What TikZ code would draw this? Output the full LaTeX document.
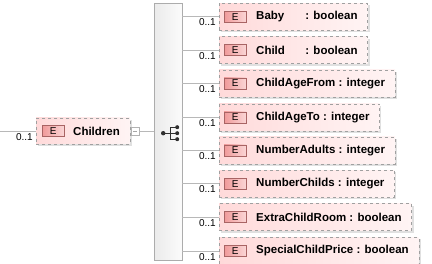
\documentclass[tikz,border=0pt]{standalone}
\usepackage{fontspec}
\setmainfont{Liberation Sans}
\usetikzlibrary{positioning,shadows}

\definecolor{elemfill}{HTML}{FFDADA}
\definecolor{elemfade}{HTML}{FFF4F4}
\definecolor{badgefill}{HTML}{F09A9A}
\definecolor{badgefade}{HTML}{FBD6D6}
\definecolor{badgeline}{HTML}{A86464}
\definecolor{boxline}{HTML}{A0A0A0}
\definecolor{wire}{HTML}{B8B8B8}
\definecolor{icon}{HTML}{303030}

\begin{document}
\begin{tikzpicture}[
  x=1pt, y=-1pt,
  font=\fontsize{11.5}{13}\selectfont,
  element/.style={draw=boxline, dashed, left color=elemfill, right color=elemfade, minimum height=27pt, inner xsep=10pt, inner ysep=0pt, font=\fontsize{11.5}{13}\selectfont\bfseries, execute at begin node={\hspace*{27pt}}, drop shadow={shadow xshift=2pt, shadow yshift=-2pt, fill=black, opacity=0.12}},
  ebadge/.style={draw=badgeline, left color=badgefill, right color=badgefade, minimum width=22pt, minimum height=11pt, inner sep=0pt, font=\fontsize{10}{10}\selectfont},
  card/.style={font=\fontsize{10}{10}\selectfont, inner sep=1pt},
  link/.style={draw=wire, line width=0.6pt},
  fold/.style={draw=gray!60, fill=white, minimum size=8pt, inner sep=0pt},
  seqbar/.style={draw=gray!65, left color=gray!16, right color=gray!3, minimum width=28pt, minimum height=257pt, inner sep=0pt}
]
  \useasboundingbox (0,0) rectangle (432,264);

  % sequence compositor
  \node[seqbar, anchor=north west] (seq) at (154,3) {};
  \begin{scope}[shift={(seq.center)}]
    \draw[icon, line width=0.9pt] (-5,1.5) -- (2,1.5) (2,-4.5) -- (2,7.5)
      (2,-4.5) -- (9,-4.5) (2,7.5) -- (9,7.5) (2,1.5) -- (9,1.5);
    \fill[icon] (-5,1.5) circle (2.2pt) (9,-4.5) circle (2pt)
      (9,1.5) circle (2pt) (9,7.5) circle (2pt);
  \end{scope}

  % parent element
  \coordinate (root) at (0,131);
  \node[element, minimum height=26pt, anchor=west] (children) at (36,131) {Children};
  \node[ebadge, right=6pt of children.west] (children-e) {E};
  \node[card, below left=1pt and 2pt of children.west] (children-n) {0..1};
  \node[fold, right=1pt of children] (fold) {};
  \draw[gray!70] ([xshift=2pt]fold.west) -- ([xshift=-2pt]fold.east);
  \draw[link] (root) -- (children.west);
  \draw[link] (fold.east) -- (fold.east -| seq.west);

  % child elements
  \node[element, anchor=north west] (baby) at (219,3) {\makebox[46pt][l]{Baby}\ : boolean};
  \node[element, below=6pt of baby.south west, anchor=north west] (child) {\makebox[46pt][l]{Child}\ : boolean};
  \node[element, below=6pt of child.south west, anchor=north west] (agefrom) {ChildAgeFrom : integer};
  \node[element, below=6.5pt of agefrom.south west, anchor=north west] (ageto) {ChildAgeTo : integer};
  \node[element, below=5.5pt of ageto.south west, anchor=north west] (adults) {NumberAdults : integer};
  \node[element, below=6pt of adults.south west, anchor=north west] (childs) {NumberChilds : integer};
  \node[element, below=6pt of childs.south west, anchor=north west] (extraroom) {ExtraChildRoom : boolean};
  \node[element, below=6.5pt of extraroom.south west, anchor=north west] (price) {SpecialChildPrice : boolean};

  \node[ebadge, right=5pt of baby.west] (baby-e) {E};
  \node[ebadge, right=5pt of child.west] (child-e) {E};
  \node[ebadge, right=5pt of agefrom.west] (agefrom-e) {E};
  \node[ebadge, right=5pt of ageto.west] (ageto-e) {E};
  \node[ebadge, right=5pt of adults.west] (adults-e) {E};
  \node[ebadge, right=5pt of childs.west] (childs-e) {E};
  \node[ebadge, right=5pt of extraroom.west] (extraroom-e) {E};
  \node[ebadge, right=5pt of price.west] (price-e) {E};

  \node[card, below left=1pt and 2pt of baby.west] (baby-n) {0..1};
  \node[card, below left=1pt and 2pt of child.west] (child-n) {0..1};
  \node[card, below left=1pt and 2pt of agefrom.west] (agefrom-n) {0..1};
  \node[card, below left=1pt and 2pt of ageto.west] (ageto-n) {0..1};
  \node[card, below left=1pt and 2pt of adults.west] (adults-n) {0..1};
  \node[card, below left=1pt and 2pt of childs.west] (childs-n) {0..1};
  \node[card, below left=1pt and 2pt of extraroom.west] (extraroom-n) {0..1};
  \node[card, below left=1pt and 2pt of price.west] (price-n) {0..1};

  \draw[link] (seq.east |- baby.west) -- (baby.west);
  \draw[link] (seq.east |- child.west) -- (child.west);
  \draw[link] (seq.east |- agefrom.west) -- (agefrom.west);
  \draw[link] (seq.east |- ageto.west) -- (ageto.west);
  \draw[link] (seq.east |- adults.west) -- (adults.west);
  \draw[link] (seq.east |- childs.west) -- (childs.west);
  \draw[link] (seq.east |- extraroom.west) -- (extraroom.west);
  \draw[link] (seq.east |- price.west) -- (price.west);
\end{tikzpicture}
\end{document}
